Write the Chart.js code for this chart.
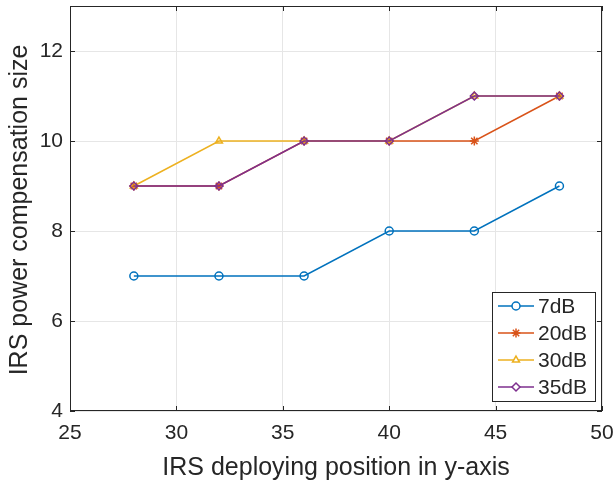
<!DOCTYPE html>
<html>
<head>
<meta charset="utf-8">
<script src="https://cdn.jsdelivr.net/npm/chart.js@4/dist/chart.umd.min.js"></script>
<style>
  html, body { margin: 0; padding: 0; background: #fff; }
  #wrap { width: 614px; height: 484px; }
</style>
</head>
<body>
<div id="wrap"><canvas id="c" width="614" height="484"></canvas></div>
<script>
// IRS deploying positions along the y-axis
const positions = [28, 32, 36, 40, 44, 48];
// Power compensation size per SNR setting
const snr7dB  = [7, 7, 7, 8, 8, 9];
const snr20dB = [9, 9, 10, 10, 10, 11];
const snr30dB = [9, 10, 10, 10, 11, 11];
const snr35dB = [9, 9, 10, 10, 11, 11];
const seriesNames = ['7dB', '20dB', '30dB', '35dB'];
const xTicks = [25, 30, 35, 40, 45, 50];
const yTicks = [4, 6, 8, 10, 12];

const AX = '#262626';
const FONT = '"Liberation Sans", Arial, Helvetica, sans-serif';

function pts(vals) { return positions.map((x, i) => ({ x, y: vals[i] })); }

function series(label, vals, color, style, order) {
  return {
    label, data: pts(vals), order,
    borderColor: color, borderWidth: 1.5,
    pointStyle: style, pointRadius: style === 'star' ? 4.5 : 4, pointHoverRadius: 4,
    pointBorderColor: color, pointBackgroundColor: 'rgba(255,255,255,0)',
    pointBorderWidth: 1.5, tension: 0, fill: false
  };
}

// Box, inward tick marks, axis titles and legend
const decor = {
  id: 'decor',
  afterDatasetsDraw(chart) {
    const { ctx, chartArea: a, scales: { x, y } } = chart;
    ctx.save();
    ctx.strokeStyle = AX; ctx.lineWidth = 1;
    ctx.strokeRect(a.left + 0.5, a.top + 0.5, a.right - a.left - 1, a.bottom - a.top - 1);
    ctx.beginPath();
    xTicks.forEach(v => {
      const px = Math.round(x.getPixelForValue(v)) + 0.5;
      ctx.moveTo(px, a.bottom); ctx.lineTo(px, a.bottom - 5);
      ctx.moveTo(px, a.top); ctx.lineTo(px, a.top + 5);
    });
    yTicks.forEach(v => {
      const py = Math.round(y.getPixelForValue(v)) + 0.5;
      ctx.moveTo(a.left, py); ctx.lineTo(a.left + 5, py);
      ctx.moveTo(a.right, py); ctx.lineTo(a.right - 5, py);
    });
    ctx.stroke();

    // axis titles
    ctx.fillStyle = AX;
    ctx.font = '25px ' + FONT;
    ctx.textAlign = 'center'; ctx.textBaseline = 'alphabetic';
    ctx.fillText('IRS deploying position in y-axis', (a.left + a.right) / 2, 475);
    ctx.save();
    ctx.translate(27, 210);
    ctx.rotate(-Math.PI / 2);
    ctx.fillText('IRS power compensation size', 0, 0);
    ctx.restore();

    // legend
    const lx = 492, ly = 292, lw = 103, lh = 109;
    ctx.fillStyle = '#fff';
    ctx.fillRect(lx, ly, lw, lh);
    ctx.strokeStyle = AX; ctx.lineWidth = 1;
    ctx.strokeRect(lx + 0.5, ly + 0.5, lw, lh);
    ctx.font = '21px ' + FONT;
    ctx.textAlign = 'left'; ctx.textBaseline = 'middle';
    chart.data.datasets.forEach((ds, i) => {
      const ry = 306 + i * 27;
      ctx.strokeStyle = ds.borderColor; ctx.lineWidth = ds.borderWidth;
      ctx.beginPath(); ctx.moveTo(498, ry); ctx.lineTo(534, ry); ctx.stroke();
      ctx.lineWidth = ds.pointBorderWidth;
      ctx.fillStyle = '#fff';
      Chart.helpers.drawPoint(ctx, { pointStyle: ds.pointStyle, radius: ds.pointRadius, borderWidth: ds.pointBorderWidth }, 516, ry);
      ctx.fillStyle = AX;
      ctx.fillText(ds.label, 538, ry + 1);
    });
    ctx.restore();
  }
};

const noOverhang = s => { s.paddingLeft = 0; s.paddingRight = 0; s.paddingTop = 0; s.paddingBottom = 0; };

new Chart(document.getElementById('c'), {
  type: 'line',
  data: {
    datasets: [
      series(seriesNames[0], snr7dB,  '#0072BD', 'circle',   3),
      series(seriesNames[1], snr20dB, '#D95319', 'star',     2),
      series(seriesNames[2], snr30dB, '#EDB120', 'triangle', 1),
      series(seriesNames[3], snr35dB, '#7E2F8E', 'rectRot',  0)
    ]
  },
  options: {
    responsive: false, animation: false, devicePixelRatio: 1,
    layout: { padding: { top: 0, right: 12, left: 0, bottom: 0 } },
    plugins: { legend: { display: false }, tooltip: { enabled: false } },
    scales: {
      x: {
        type: 'linear', min: 25, max: 50,
        afterBuildTicks: s => { s.ticks = xTicks.map(v => ({ value: v })); },
        afterFit: s => { s.height = 73; noOverhang(s); },
        grid: { color: '#e6e6e6', drawTicks: false },
        border: { display: false },
        ticks: { color: AX, font: { family: FONT, size: 21 }, padding: 10, maxRotation: 0 }
      },
      y: {
        type: 'linear', min: 4, max: 13,
        afterBuildTicks: s => { s.ticks = yTicks.map(v => ({ value: v })); },
        afterFit: s => { s.width = 70; noOverhang(s); },
        grid: { color: '#e6e6e6', drawTicks: false },
        border: { display: false },
        ticks: { color: AX, font: { family: FONT, size: 21 }, padding: 7 }
      }
    }
  },
  plugins: [decor]
});
</script>
</body>
</html>
